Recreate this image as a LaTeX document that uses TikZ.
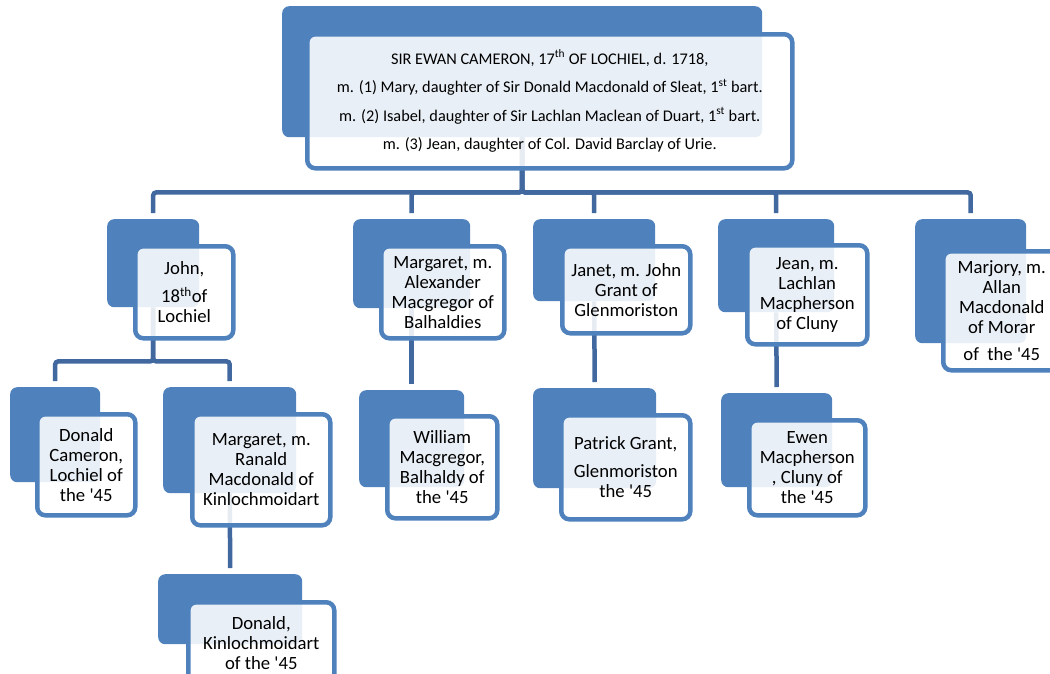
\documentclass[tikz,border=0pt]{standalone}
\usepackage{fontspec}
\setmainfont{Carlito}
\definecolor{boxblue}{HTML}{4F81BD}
\definecolor{linkblue}{HTML}{41699F}
\newcommand{\qs}{\textquotesingle}
\begin{document}
\begin{tikzpicture}[x=1pt, y=-1pt,
    back/.style={rectangle, rounded corners=7pt, fill=boxblue, anchor=north west, inner sep=0pt},
    front/.style={rectangle, rounded corners=8pt, draw=boxblue, line width=4.5pt, fill=white,
        fill opacity=0.88, text opacity=1, anchor=north west, align=center, inner sep=0pt,
        font=\fontsize{18.7}{20}\selectfont},
    link/.style={draw=linkblue, line width=4.5pt, rounded corners=3pt}]
    \useasboundingbox (0,0) rectangle (1050,673);
    % back boxes
    \node[back, minimum width=480pt, minimum height=131pt] (ewanbk) at (282,6) {};
    \node[back, minimum width=92pt, minimum height=88pt] (johnbk) at (107,219) {};
    \node[back, minimum width=117pt, minimum height=89pt] (margaretbk) at (353,219) {};
    \node[back, minimum width=122pt, minimum height=82pt] (janetbk) at (533,219) {};
    \node[back, minimum width=116pt, minimum height=93pt] (jeanbk) at (718,219) {};
    \node[back, minimum width=111pt, minimum height=124pt] (marjorybk) at (915,219) {};
    \node[back, minimum width=90pt, minimum height=95pt] (donaldbk) at (10,387) {};
    \node[back, minimum width=133pt, minimum height=106pt] (margaretkbk) at (163,387) {};
    \node[back, minimum width=144pt, minimum height=70pt] (donaldkbk) at (158,574) {};
    \node[back, minimum width=105pt, minimum height=97pt] (williambk) at (359,390) {};
    \node[back, minimum width=123pt, minimum height=100pt] (patrickbk) at (533,388) {};
    \node[back, minimum width=111pt, minimum height=94pt] (ewenbk) at (721,393) {};
    % connectors
    \draw[link] (ewanbk.south) -- ++(0,55) -| ([yshift=6pt]johnbk.north);
    \draw[link] (ewanbk.south) -- ++(0,55) -| ([yshift=6pt]margaretbk.north);
    \draw[link] (ewanbk.south) -- ++(0,55) -| ([yshift=6pt]janetbk.north);
    \draw[link] (ewanbk.south) -- ++(0,55) -| ([yshift=6pt]jeanbk.north);
    \draw[link] (ewanbk.south) -- ++(0,55) -| ([yshift=6pt]marjorybk.north);
    \draw[link] (johnbk.south) -- ++(0,54) -| ([yshift=6pt]donaldbk.north);
    \draw[link] (johnbk.south) -- ++(0,54) -| ([yshift=6pt]margaretkbk.north);
    \draw[link] (margaretbk.south) -- ([yshift=6pt]williambk.north);
    \draw[link] (janetbk.south) -- ([yshift=6pt]patrickbk.north);
    \draw[link] (jeanbk.south) -- ([yshift=6pt]ewenbk.north);
    \draw[link] (margaretkbk.south) -- ([yshift=6pt]donaldkbk.north);
    % front boxes
    \node[front, minimum width=485pt, minimum height=134pt, font=\fontsize{16.3}{28.5}\selectfont] (ewan) at (305,32)
        {SIR EWAN CAMERON, 17\textsuperscript{th} OF LOCHIEL, d. 1718,\\
         m. (1) Mary, daughter of Sir Donald Macdonald of Sleat, 1\textsuperscript{st} bart.\\
         m. (2) Isabel, daughter of Sir Lachlan Maclean of Duart, 1\textsuperscript{st} bart.\\
         m. (3) Jean, daughter of Col. David Barclay of Urie.};
    \node[front, minimum width=98pt, minimum height=92pt] (john) at (133,244)
        {John,\\[8pt]18\textsuperscript{th}of\\Lochiel};
    \node[front, minimum width=123pt, minimum height=92pt] (margaret) at (379,244)
        {Margaret, m.\\Alexander\\Macgregor of\\Balhaldies};
    \node[front, minimum width=128pt, minimum height=87pt] (janet) at (560,244)
        {Janet, m. John\\Grant of\\Glenmoriston};
    \node[front, minimum width=120pt, minimum height=99pt] (jean) at (745,243)
        {Jean, m.\\Lachlan\\Macpherson\\of Cluny};
    \node[front, minimum width=117pt, minimum height=119pt] (marjory) at (941,249)
        {Marjory, m.\\Allan\\Macdonald\\of Morar\\[7pt]of\ \ the \qs45};
    \node[front, minimum width=98pt, minimum height=101pt] (donald) at (35,412)
        {Donald\\Cameron,\\Lochiel of\\the \qs45};
    \node[front, minimum width=138pt, minimum height=111pt] (margaretk) at (190,412)
        {Margaret, m.\\Ranald\\Macdonald of\\Kinlochmoidart};
    \node[front, minimum width=146pt, minimum height=82pt] (donaldk) at (186,600)
        {Donald,\\Kinlochmoidart\\of the \qs45};
    \node[front, minimum width=110pt, minimum height=102pt] (william) at (385,414)
        {William\\Macgregor,\\Balhaldy of\\the \qs45};
    \node[front, minimum width=129pt, minimum height=104pt] (patrick) at (559,413)
        {Patrick Grant,\\[8pt]Glenmoriston\\the \qs45};
    \node[front, minimum width=116pt, minimum height=95pt] (ewen) at (747,418)
        {Ewen\\Macpherson\\, Cluny of\\the \qs45};
\end{tikzpicture}
\end{document}
